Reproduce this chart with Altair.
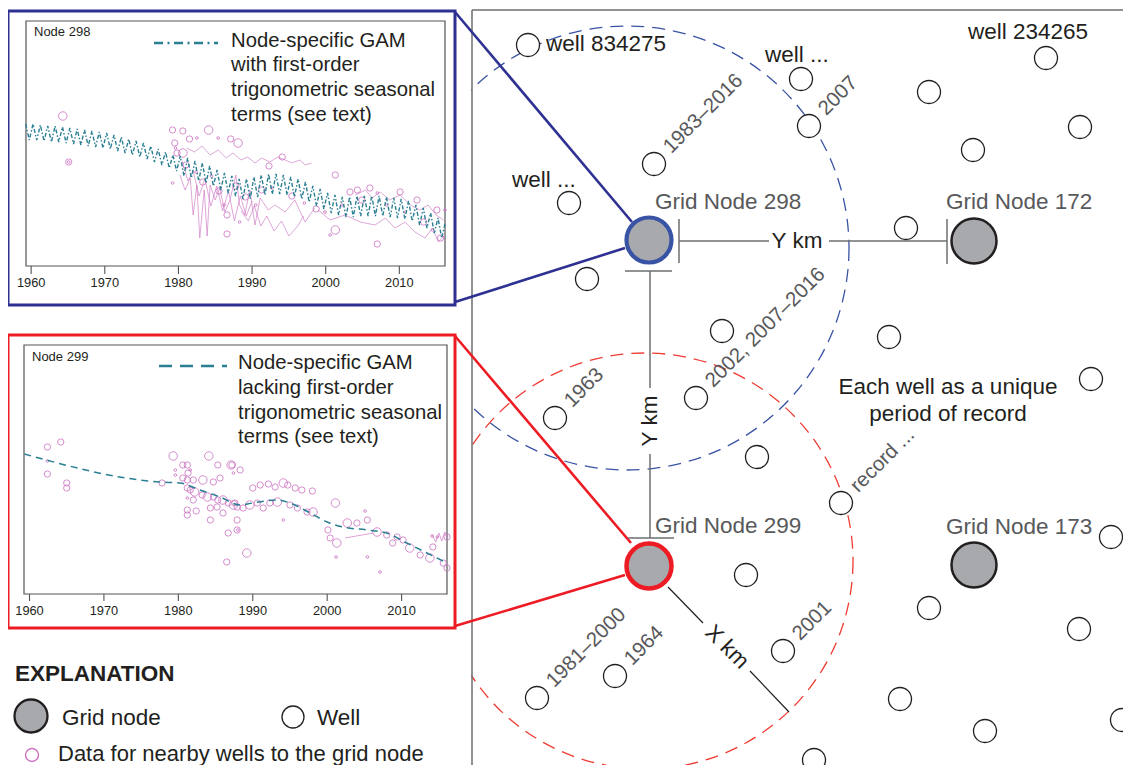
import altair as alt
import pandas as pd

# ============================ DATA ============================
# --- schematic: wells (position in the figure) ---
WELL_X = [528, 801, 1046, 929, 1080, 809, 973, 654, 569, 906, 587, 722, 889, 696, 555,
          1091, 757, 841, 746, 1111, 929, 1079, 783, 615, 537, 900, 985, 1122, 814]
WELL_Y = [45, 79, 58, 92, 127, 126, 150, 164, 203, 228, 279, 331, 337, 398, 418,
          379, 457, 503, 575, 537, 608, 629, 651, 676, 698, 699, 731, 720, 760]
# period-of-record labels attached to wells (index into the well lists)
PERIOD_WELL = [7, 5, 13, 14, 17, 22, 23, 24]
PERIOD_TEXT = ["1983–2016", "2007", "2002, 2007–2016", "1963", "record ...", "2001", "1964", "1981–2000"]
# well name labels
WELL_NAME_TEXT = ["well 834275", "well ...", "well 234265", "well ..."]
WELL_NAME_X = [546, 765, 968, 512]
WELL_NAME_Y = [44, 55, 32, 180]

# --- grid nodes ---
NODE_TEXT = ["Grid Node 298", "Grid Node 172", "Grid Node 299", "Grid Node 173"]
NODE_X = [649, 974, 649, 974]
NODE_Y = [240, 241, 566, 565]
NODE_TEXT_X = [655, 946, 655, 946]
NODE_TEXT_Y = [202, 202, 526, 527]

# --- search radii (centre, radius) ---
SEARCH_CX = [627, 645]
SEARCH_CY = [248, 561]
SEARCH_R = [222, 208]

NOTE_TEXT = ["Each well as a unique", "period of record"]
NOTE_X = [948, 948]
NOTE_Y = [387, 414]

# --- inset time series (x = year, y = relative depth below top of panel) ---
TICK_YEARS = [1960, 1970, 1980, 1990, 2000, 2010]

GAM1_YEARS = list(range(1959, 2017))
GAM1_TREND = [111, 111, 112, 113, 113, 114, 115, 116, 117, 118, 119, 120, 122, 124, 126, 128,
              130, 133, 136, 139, 142, 145, 147, 150, 152, 155, 159, 162, 165, 168, 168, 166,
              164, 163, 163, 164, 166, 168, 171, 175, 178, 182, 184, 186, 186, 185, 185, 185,
              185, 186, 187, 188, 190, 194, 197, 202, 207, 211]
GAM1_HALF_RANGE = [8] * 21 + [10] * 37

PINK1_YEAR = [1964.3, 1965.1, 1965.1, 1979.2, 1980.6, 1984.1, 1979.5, 1979.6, 1979.8, 1980.6,
              1981.5, 1979.2, 1986.6, 1987.1, 1988.1, 1994.1, 2001.3, 2007.0, 2001.3, 2000.6,
              2003.3, 2004.3, 2006.0, 2007.0, 2010.1, 2012.4, 2015.1, 2016.2, 1981.0, 1982.4,
              1983.3, 1984.5, 1985.5, 1986.2, 1987.8, 1989.1, 1990.5, 1991.3, 1992.7, 1995.4,
              1997.1, 1998.7, 1999.9, 2002.2, 2004.9, 2008.3, 2010.8, 2013.3, 2014.5, 2015.6,
              1992.3, 1986.6, 1988.3, 1982.5, 1985.4]
PINK1_DEPTH = [95, 141, 141, 109, 110, 109, 122, 127, 132, 132,
               118, 162, 213, 118, 122, 136, 154, 223, 209, 214,
               171, 169, 167, 172, 171, 179, 189, 189, 144, 151,
               161, 155, 170, 184, 165, 176, 184, 169, 167, 175,
               182, 188, 191, 184, 179, 184, 191, 201, 209, 217,
               145, 194, 201, 117, 117]
PINK1_WEIGHT = [3, 2, 1, 2, 2, 3, 2, 1, 2, 3,
                2, 1, 2, 2, 3, 2, 2, 2, 3, 1,
                2, 2, 2, 1, 2, 2, 2, 1, 2, 1,
                2, 1, 2, 1, 2, 2, 1, 2, 1, 2,
                1, 2, 1, 1, 2, 1, 1, 2, 1, 2,
                2, 2, 1, 1, 1]

PINK1_A_YEAR = [1981.1, 1982.2, 1983.2, 1984.3, 1985.4, 1986.5, 1987.4, 1988.5, 1989.4, 1990.4,
                1991.3, 1992.4, 1993.5, 1994.5, 1995.4, 1996.5, 1997.2, 1998.1]
PINK1_A_DEPTH = [127, 131, 125, 134, 129, 137, 132, 139, 136, 142, 137, 141, 136, 139, 142, 139, 144, 142]
PINK1_B_YEAR = [1980.2, 1980.9, 1981.6, 1982.0, 1982.5, 1982.9, 1983.5, 1983.9, 1984.3, 1985.0,
                1985.6, 1986.3, 1987.0, 1987.8, 1988.3, 1989.0, 1989.7, 1990.4, 1991.1, 1992.2,
                1993.1, 1994.5, 1995.8, 1997.2, 1998.5]
PINK1_B_DEPTH = [154, 169, 157, 194, 164, 217, 169, 215, 164, 179,
                 167, 191, 179, 154, 184, 194, 169, 204, 177, 189,
                 184, 191, 179, 201, 187]
PINK1_C_YEAR = [1999.0, 2000.6, 2002.6, 2004.7, 2006.7, 2008.1, 2009.4, 2010.8, 2012.1, 2013.5,
                2014.5, 2015.3, 2016.2]
PINK1_C_DEPTH = [189, 199, 194, 201, 204, 197, 207, 201, 211, 217, 207, 221, 214]
PINK1_D_YEAR = [2004.0, 2005.4, 2006.3, 2007.4, 2008.7, 2010.1, 2011.5, 2012.8, 2013.9, 2015.0, 2016.0]
PINK1_D_DEPTH = [174, 169, 177, 171, 179, 174, 184, 189, 184, 194, 199]
PINK1_E_YEAR = [1980.5, 1981.3, 1982.0, 1982.8, 1983.6, 1984.4, 1985.2, 1986.0, 1986.8, 1987.6,
                1988.4, 1989.2, 1990.0]
PINK1_E_DEPTH = [140, 160, 150, 175, 158, 185, 165, 190, 170, 200, 175, 195, 180]
PINK1_F_YEAR = [1988.5, 1989.5, 1990.3, 1991.2, 1992.0, 1993.0, 1994.0, 1995.0, 1996.2, 1997.0]
PINK1_F_DEPTH = [190, 200, 185, 205, 195, 210, 200, 215, 205, 195]

GAM2_YEAR = [1959.3, 1977.5, 1980.2, 1982.9, 1985.6, 1988.3, 1990.0, 1993.3, 1995.0,
             1997.7, 2000.0, 2002.1, 2005.4, 2008.0, 2010.7, 2013.4, 2016.1]
GAM2_DEPTH = [109, 137, 138, 145, 152, 160, 158, 155, 158, 168, 177, 182, 185, 188, 198, 208, 218]

PINK2_YEAR = [1962.4, 1964.2, 1962.4, 1962.4, 1965.0, 1965.0, 1977.8, 1979.3, 1984.1, 1985.3,
              1987.1, 1980.6, 1981.2, 1981.6, 1981.3, 1979.6, 1979.6, 1980.6, 1981.2, 1982.0,
              1983.3, 1984.7, 1985.6, 1981.2, 1981.6, 1982.2, 1983.2, 1983.9, 1984.7, 1985.3,
              1986.0, 1986.7, 1987.4, 1987.9, 1981.2, 1982.0, 1981.2, 1982.4, 1981.2, 1984.3,
              1986.7, 1986.5, 1987.9, 1988.0, 1984.3, 1985.2, 1986.0, 1987.2, 1988.3, 1987.4,
              1990.0, 1991.0, 1992.1, 1993.0, 1994.1, 1994.7, 1995.7, 1996.6, 1998.0, 1987.6,
              1988.7, 1989.6, 1990.6, 1991.4, 1992.3, 1993.3, 1994.1, 1995.0, 1996.0, 1997.3,
              1998.1, 1987.9, 1989.2, 2000.1, 2000.4, 2001.3, 2001.1, 2001.2, 2002.7, 2004.0,
              2005.4, 2005.1, 2005.4, 2006.7, 2008.0, 2009.4, 2010.2, 2008.8, 2011.1, 2012.5,
              2013.8, 2014.2, 2015.6, 2016.1, 2014.8, 2014.1, 2016.1, 2007.1]
PINK2_DEPTH = [102, 97, 116, 129, 138, 143, 138, 111, 111, 120,
               120, 120, 120, 125, 128, 125, 130, 133, 135, 135,
               135, 137, 133, 143, 145, 147, 150, 152, 152, 155,
               155, 158, 160, 162, 153, 155, 165, 166, 170, 175,
               188, 217, 175, 185, 163, 162, 168, 120, 125, 128,
               143, 140, 139, 142, 138, 140, 143, 145, 146, 158,
               163, 160, 158, 163, 158, 157, 175, 160, 163, 167,
               167, 185, 208, 185, 193, 198, 158, 212, 178, 178,
               175, 166, 212, 187, 190, 192, 195, 198, 203, 210,
               213, 202, 218, 223, 192, 191, 192, 227]
PINK2_WEIGHT = [2, 2, 1, 2, 2, 2, 2, 3, 3, 2,
                3, 2, 2, 1, 2, 1, 1, 2, 2, 2,
                3, 2, 2, 2, 2, 3, 2, 3, 2, 2,
                3, 2, 3, 2, 1, 2, 2, 2, 2, 2,
                2, 2, 2, 1, 2, 2, 2, 2, 2, 1,
                2, 2, 2, 2, 3, 2, 2, 2, 2, 2,
                2, 3, 2, 2, 2, 3, 1, 2, 2, 2,
                3, 2, 3, 2, 2, 3, 3, 1, 3, 2,
                2, 1, 1, 3, 2, 2, 2, 2, 3, 2,
                3, 2, 2, 2, 1, 1, 2, 1]
PINK2_A_YEAR = [2002.4, 2006.2]
PINK2_A_DEPTH = [193, 188]
PINK2_B_YEAR = [2014.1, 2014.6, 2015.0, 2015.4, 2015.8, 2016.1]
PINK2_B_DEPTH = [190, 197, 188, 196, 187, 193]

INSET1_TEXT = ["Node-specific GAM", "with first-order", "trigonometric seasonal", "terms (see text)"]
INSET2_TEXT = ["Node-specific GAM", "lacking first-order", "trigonometric seasonal", "terms (see text)"]

# ============================ LAYOUT ============================
W, H = 1115, 757
PXD = [8, 8 + W]
PYD = [8, 8 + H]
FONT = "Liberation Sans"
BLACK = "#231f20"
GRAY_T = "#58595b"
NAVY = "#2e3192"
RED = "#ed1c24"
BLUE_RING = "#3953a4"
TEAL = "#2a7f93"
PINK = "#cc74c2"
NODE_FILL = "#a7a9ac"

# inset frames (left, top, right, bottom) and the data range they show
IN1_BOX = (26, 21, 445, 266)
IN1_YEARS = (1959.3, 2016.2)
IN2_BOX = (24, 345, 447, 594)
IN2_YEARS = (1959.26, 2016.1)


def ext(v0, v1, p0, p1, P0, P1):
    k = (v1 - v0) / (p1 - p0)
    return [v0 + (P0 - p0) * k, v0 + (P1 - p0) * k]


def sx(dom):
    return alt.Scale(domain=dom, nice=False, zero=False)


def sy(dom):
    return alt.Scale(domain=dom, nice=False, zero=False, reverse=True)


def PX(f="x"):
    return alt.X(f"{f}:Q", scale=sx(PXD), axis=None)


def PY(f="y"):
    return alt.Y(f"{f}:Q", scale=sy(PYD), axis=None)


def inset_scales(box, years):
    l, t, r, b = box
    xd = ext(years[0], years[1], l, r, PXD[0], PXD[1])
    yd = ext(0, b - t, t, b, PYD[0], PYD[1])
    return (lambda f="year": alt.X(f"{f}:Q", scale=sx(xd), axis=None),
            lambda f="depth": alt.Y(f"{f}:Q", scale=sy(yd), axis=None))


I1X, I1Y = inset_scales(IN1_BOX, IN1_YEARS)
I2X, I2Y = inset_scales(IN2_BOX, IN2_YEARS)


def segs(rows, color, width, dash=None, cap="butt"):
    df = pd.DataFrame(rows, columns=["x", "y", "x2", "y2"])
    kw = dict(color=color, strokeWidth=width, strokeCap=cap, opacity=1)
    if dash:
        kw["strokeDash"] = dash
    return alt.Chart(df).mark_rule(**kw).encode(x=PX(), y=PY(), x2="x2:Q", y2="y2:Q")


def texts(xs, ys, tx, size, color, align="left", baseline="middle", angle=None, weight=None):
    df = pd.DataFrame({"x": xs, "y": ys, "t": tx})
    kw = dict(font=FONT, fontSize=size, color=color, align=align, baseline=baseline)
    if angle is not None:
        kw["angle"] = angle
    if weight:
        kw["fontWeight"] = weight
    return alt.Chart(df).mark_text(**kw).encode(x=PX(), y=PY(), text="t:N")


def points(xs, ys, size, stroke, sw, fill=None, dash=None):
    df = pd.DataFrame({"x": xs, "y": ys})
    kw = dict(shape="circle", size=size, stroke=stroke, strokeWidth=sw, opacity=1)
    if fill is None:
        kw["filled"] = False
    else:
        kw["filled"] = True
        kw["fill"] = fill
    if dash:
        kw["strokeDash"] = dash
    return alt.Chart(df).mark_point(**kw).encode(x=PX(), y=PY())


def box(l, t, r, b, color, width):
    df = pd.DataFrame({"x": [l], "y": [t], "x2": [r], "y2": [b]})
    return alt.Chart(df).mark_rect(fillOpacity=0, stroke=color, strokeWidth=width).encode(
        x=PX(), y=PY(), x2="x2:Q", y2="y2:Q")


layers = []

# search radii (dashed circles), then mask the part left of the map panel
layers.append(points([SEARCH_CX[0]], [SEARCH_CY[0]], (2 * SEARCH_R[0]) ** 2, BLUE_RING, 1.3, dash=[13, 8]))
layers.append(points([SEARCH_CX[1]], [SEARCH_CY[1]], (2 * SEARCH_R[1]) ** 2, "#ef3b33", 1.3, dash=[13, 8]))
mask = pd.DataFrame({"x": [-20], "y": [-20], "x2": [471.2], "y2": [800]})
layers.append(alt.Chart(mask).mark_rect(color="white", opacity=1).encode(x=PX(), y=PY(), x2="x2:Q", y2="y2:Q"))

# map panel border
layers.append(segs([(472, 10, 472, 800), (472, 10, 1140, 10)], "#6d6e71", 1.5))

# inset outer boxes and connectors
layers.append(box(8, 11, 455, 305, NAVY, 3))
layers.append(box(8, 335, 455, 628, RED, 3))
layers.append(segs([(455, 12, 632, 222), (455, 302, 625, 248)], NAVY, 2.6))
layers.append(segs([(455, 336, 631, 543), (455, 626, 625, 575)], RED, 2.6))

# ---------------- inset 1 ----------------
layers.append(box(*IN1_BOX, "#555555", 1.2))
gam1 = []
for yr, tr, hr in zip(GAM1_YEARS, GAM1_TREND, GAM1_HALF_RANGE):
    gam1.append({"year": yr + 0.25, "depth": tr - hr})
    gam1.append({"year": yr + 0.75, "depth": tr + hr})
gam1 = pd.DataFrame(gam1)
gam1 = gam1[gam1.year <= IN1_YEARS[1] + 0.1]

p1_lines = pd.concat([
    pd.DataFrame({"year": PINK1_A_YEAR, "depth": PINK1_A_DEPTH, "s": "A"}),
    pd.DataFrame({"year": PINK1_B_YEAR, "depth": PINK1_B_DEPTH, "s": "B"}),
    pd.DataFrame({"year": PINK1_C_YEAR, "depth": PINK1_C_DEPTH, "s": "C"}),
    pd.DataFrame({"year": PINK1_D_YEAR, "depth": PINK1_D_DEPTH, "s": "D"}),
    pd.DataFrame({"year": PINK1_E_YEAR, "depth": PINK1_E_DEPTH, "s": "E"}),
    pd.DataFrame({"year": PINK1_F_YEAR, "depth": PINK1_F_DEPTH, "s": "F"}),
])
layers.append(alt.Chart(p1_lines).mark_line(color=PINK, strokeWidth=0.8, opacity=0.8).encode(
    x=I1X(), y=I1Y(), detail="s:N"))
p1 = pd.DataFrame({"year": PINK1_YEAR, "depth": PINK1_DEPTH, "w": PINK1_WEIGHT})
SIZE = alt.Size("w:Q", scale=alt.Scale(domain=[1, 3], range=[7, 72]), legend=None)
layers.append(alt.Chart(p1).mark_point(shape="circle", filled=False, stroke=PINK, strokeWidth=0.9,
                                        opacity=0.9).encode(x=I1X(), y=I1Y(), size=SIZE))
layers.append(alt.Chart(gam1).mark_line(color=TEAL, strokeWidth=1.4, strokeDash=[4, 2, 1.5, 2]).encode(
    x=I1X(), y=I1Y()))

t1 = IN1_BOX[3] - IN1_BOX[1]
ticks1 = pd.DataFrame({"year": TICK_YEARS, "depth": t1, "d2": t1 + 8, "lab": [str(v) for v in TICK_YEARS],
                       "dl": t1 + 17})
layers.append(alt.Chart(ticks1).mark_rule(color="#555555", strokeWidth=1.1).encode(
    x=I1X(), y=I1Y(), y2="d2:Q"))
layers.append(alt.Chart(ticks1).mark_text(font=FONT, fontSize=12.8, color=BLACK, baseline="middle").encode(
    x=I1X(), y=I1Y("dl"), text="lab:N"))
layers.append(texts([34], [32], ["Node 298"], 13, BLACK))
layers.append(segs([(154, 43, 218, 43)], TEAL, 2.5, dash=[9, 4.5, 2, 4.5]))
layers.append(texts([231] * 4, [41, 65, 90, 115], INSET1_TEXT, 20.3, BLACK))

# ---------------- inset 2 ----------------
layers.append(box(*IN2_BOX, "#555555", 1.2))
p2_lines = pd.concat([
    pd.DataFrame({"year": PINK2_A_YEAR, "depth": PINK2_A_DEPTH, "s": "A"}),
    pd.DataFrame({"year": PINK2_B_YEAR, "depth": PINK2_B_DEPTH, "s": "B"}),
])
layers.append(alt.Chart(p2_lines).mark_line(color=PINK, strokeWidth=0.8, opacity=0.85).encode(
    x=I2X(), y=I2Y(), detail="s:N"))
p2 = pd.DataFrame({"year": PINK2_YEAR, "depth": PINK2_DEPTH, "w": PINK2_WEIGHT})
layers.append(alt.Chart(p2).mark_point(shape="circle", filled=False, stroke=PINK, strokeWidth=0.9,
                                        opacity=0.9).encode(x=I2X(), y=I2Y(), size=SIZE))
gam2 = pd.DataFrame({"year": GAM2_YEAR, "depth": GAM2_DEPTH})
layers.append(alt.Chart(gam2).mark_line(color=TEAL, strokeWidth=1.5, strokeDash=[7, 5],
                                        interpolate="monotone").encode(x=I2X(), y=I2Y()))
t2 = IN2_BOX[3] - IN2_BOX[1]
ticks2 = pd.DataFrame({"year": TICK_YEARS, "depth": t2, "d2": t2 + 7, "lab": [str(v) for v in TICK_YEARS],
                       "dl": t2 + 17})
layers.append(alt.Chart(ticks2).mark_rule(color="#555555", strokeWidth=1.1).encode(
    x=I2X(), y=I2Y(), y2="d2:Q"))
layers.append(alt.Chart(ticks2).mark_text(font=FONT, fontSize=12.8, color=BLACK, baseline="middle").encode(
    x=I2X(), y=I2Y("dl"), text="lab:N"))
layers.append(texts([32], [357], ["Node 299"], 13, BLACK))
layers.append(segs([(159, 366, 227, 366)], TEAL, 2.3, dash=[13, 8]))
layers.append(texts([238] * 4, [363, 388, 413, 437], INSET2_TEXT, 20.3, BLACK))

# ---------------- distances ----------------
layers.append(segs([(679, 241, 769, 241), (829, 241, 947, 241), (679, 219, 679, 263), (947, 219, 947, 264),
                    (650, 271, 650, 388), (650, 454, 650, 538), (625, 271, 672, 271), (628, 538, 674, 538)],
                   "#6d6e71", 1.5))
layers.append(segs([(668, 587, 703, 623), (750, 671, 789, 712)], BLACK, 1.2))
layers.append(texts([797], [241], ["Y km"], 22.5, BLACK, align="center"))
layers.append(texts([650], [421], ["Y km"], 22.5, BLACK, align="center", angle=270))
layers.append(texts([727], [647], ["X km"], 22.5, BLACK, align="center", angle=45))

# ---------------- wells and nodes ----------------
layers.append(points(WELL_X, WELL_Y, 23 ** 2, BLACK, 1.3, fill="white"))
layers.append(points([NODE_X[0]], [NODE_Y[0]], 45 ** 2, BLUE_RING, 4.2, fill=NODE_FILL))
layers.append(points([NODE_X[2]], [NODE_Y[2]], 45 ** 2, RED, 4.5, fill=NODE_FILL))
layers.append(points([NODE_X[1], NODE_X[3]], [NODE_Y[1], NODE_Y[3]], 45 ** 2, BLACK, 2.5, fill=NODE_FILL))

# ---------------- labels ----------------
layers.append(texts(NODE_TEXT_X, NODE_TEXT_Y, NODE_TEXT, 22.5, GRAY_T))
layers.append(texts(WELL_NAME_X, WELL_NAME_Y, WELL_NAME_TEXT, 22.5, BLACK))
LAB_DX, LAB_DY = 13, -14
layers.append(texts([WELL_X[i] + LAB_DX for i in PERIOD_WELL], [WELL_Y[i] + LAB_DY for i in PERIOD_WELL],
                    PERIOD_TEXT, 20.5, GRAY_T, angle=315))
layers.append(texts(NOTE_X, NOTE_Y, NOTE_TEXT, 22.5, BLACK, align="center"))

# ---------------- explanation ----------------
layers.append(texts([15], [674], ["EXPLANATION"], 22.5, BLACK, weight="bold"))
layers.append(points([31], [716], 33 ** 2, BLACK, 2.3, fill=NODE_FILL))
layers.append(texts([62], [718], ["Grid node"], 22.5, BLACK))
layers.append(points([293], [717], 22 ** 2, BLACK, 1.3, fill="white"))
layers.append(texts([317], [718], ["Well"], 22.5, BLACK))
layers.append(points([32], [755], 13 ** 2, PINK, 1.4))
layers.append(texts([58], [754], ["Data for nearby wells to the grid node"], 22, BLACK))

chart = alt.layer(*layers).resolve_scale(x="independent", y="independent").properties(
    width=W, height=H, padding=0, autosize=alt.AutoSizeParams(type="none"), background="white"
).configure_view(stroke=None)

chart.save("out.html", embed_options={"renderer": "svg", "actions": False})
